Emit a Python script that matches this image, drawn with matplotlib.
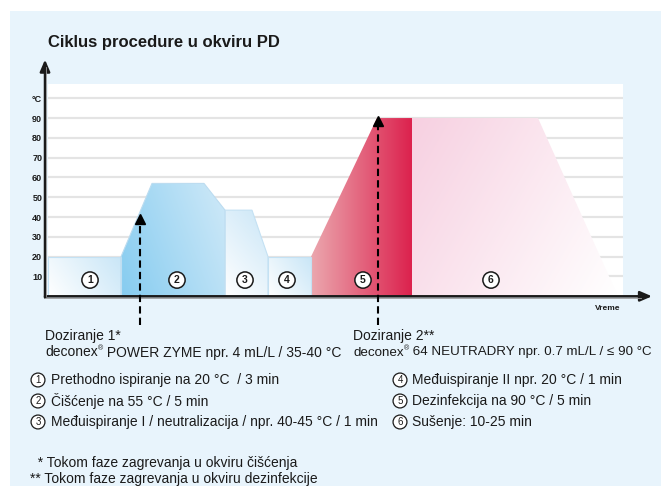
"""
Ciklus procedure u okviru PD - temperature profile of the washer-disinfector cycle
"""

import matplotlib.pyplot as plt
import numpy as np
from matplotlib.colors import LinearSegmentedColormap
from matplotlib.patches import Polygon, Rectangle

W, H = 661, 486
BG = '#e8f4fc'
INK = '#1a1a1a'
GRID = '#e4e4e4'
FS = 10

plt.rcParams['font.family'] = ['Liberation Sans', 'DejaVu Sans']

# Temperature profile (time in chart units, temperature in deg C), one list per phase
phase_x = [
    [3, 76, 76, 3],
    [76, 107, 159, 180, 180, 76],
    [180, 207, 223, 223, 180],
    [223, 266, 266, 223],
    [266, 332, 367, 367, 266],
    [367, 493, 573, 367],
]
phase_y = [
    [20, 20, 0, 0],
    [20, 57, 57, 43.5, 0, 0],
    [43.5, 43.5, 20, 0, 0],
    [20, 20, 0, 0],
    [20, 90, 90, 0, 0],
    [90, 90, 0, 0],
]
phase_labels = ['1', '2', '3', '4', '5', '6']
label_x = [45, 132, 200, 242, 318, 446]

# gradient colours (start, end, direction angle in degrees)
phase_grad = [
    ('#ffffff', '#c9e6f7', 35),
    ('#86ccf0', '#cfe9f8', 20),
    ('#ffffff', '#cae6f7', 40),
    ('#ffffff', '#c9e6f7', 35),
    ('#eba7ae', '#dc224e', 0),
    ('#f7d0e1', '#ffffff', -30),
]
phase_edge = ['#c4e1f3', '#bcdcf0', '#c4e1f3', '#c4e1f3', 'none', 'none']

# dosing points
dose_x = [95, 333]
dose_temp = [40.5, 90]

yticks = [10, 20, 30, 40, 50, 60, 70, 80, 90, 100]
ytick_labels = ['10', '20', '30', '40', '50', '60', '70', '80', '90', '°C']

dose_title = ['Doziranje 1*', 'Doziranje 2**']
dose_product = [' POWER ZYME npr. 4 mL/L / 35-40 °C',
                ' 64 NEUTRADRY npr. 0.7 mL/L / \u2264 90 °C']
legend_left = [
    'Prethodno ispiranje na 20 °C  / 3 min',
    'Čišćenje na 55 °C / 5 min',
    'Međuispiranje I / neutralizacija / npr. 40-45 °C / 1 min',
]
legend_right = [
    'Međuispiranje II npr. 20 °C / 1 min',
    'Dezinfekcija na 90 °C / 5 min',
    'Sušenje: 10-25 min',
]
footnotes = ['  * Tokom faze zagrevanja u okviru čišćenja',
             '** Tokom faze zagrevanja u okviru dezinfekcije']


def fx(px):
    return px / W


def fy(py):
    return 1 - py / H


def gradient_patch(ax, xs, ys, c0, c1, angle, edge):
    poly = Polygon(np.column_stack([xs, ys]), closed=True, fc='none',
                   ec=edge, lw=0.8, zorder=3)
    ax.add_patch(poly)
    x0, x1, y0, y1 = min(xs), max(xs), min(ys), max(ys)
    gx, gy = np.meshgrid(np.linspace(0, 1, 200), np.linspace(0, 1, 200))
    a = np.deg2rad(angle)
    # scale y by aspect so the direction is in pixel space
    sx, sy = (x1 - x0), (y1 - y0) * 1.98
    t = gx * sx * np.cos(a) + gy * sy * np.sin(a)
    t = (t - t.min()) / (t.max() - t.min())
    cmap = LinearSegmentedColormap.from_list('g', [c0, c1])
    im = ax.imshow(t, cmap=cmap, extent=[x0, x1, y0, y1], origin='lower',
                   aspect='auto', interpolation='bilinear', zorder=2)
    im.set_clip_path(poly)


fig = plt.figure(figsize=(W / 100, H / 100), dpi=100)
fig.patch.set_facecolor('white')
fig.patches.append(Rectangle((fx(10), 0), 1 - fx(10), fy(11), transform=fig.transFigure,
                             fc=BG, ec='none', zorder=-10))
renderer = fig.canvas.get_renderer()

ax = fig.add_axes([fx(45), fy(296.3), 607 / W, 234.3 / H])
ax.set_facecolor('none')
ax.set_xlim(0, 607)
ax.set_ylim(0, 118.3)
for s in ax.spines.values():
    s.set_visible(False)
ax.set_xticks([])
ax.set_yticks(yticks)
ax.set_yticklabels(ytick_labels, fontsize=6.5, fontweight='bold', color=INK)
ax.tick_params(axis='y', length=0, pad=2)

# white plotting area and grid
ax.add_patch(Rectangle((3, 0), 575, 107.2, fc='white', ec='none', zorder=0))
ax.hlines(yticks, 3, 578, color=GRID, lw=1.6, zorder=1)

for xs, ys, (c0, c1, ang), edge in zip(phase_x, phase_y, phase_grad, phase_edge):
    gradient_patch(ax, xs, ys, c0, c1, ang, edge)

for lab, lx in zip(phase_labels, label_x):
    ax.text(lx, 8.2, lab, ha='center', va='center', fontsize=7.5, fontweight='bold',
            color=INK, zorder=6,
            bbox=dict(boxstyle='circle,pad=0.3', fc='white', ec=INK, lw=1.1))

# axes with arrow heads
ax.annotate('', xy=(607, 0), xytext=(0, 0), annotation_clip=False, zorder=7,
            arrowprops=dict(arrowstyle='-|>,head_length=0.7,head_width=0.3',
                            color=INK, lw=1.8, shrinkA=0, shrinkB=0))
ax.annotate('', xy=(0, 119.5), xytext=(0, -0.6), annotation_clip=False, zorder=7,
            arrowprops=dict(arrowstyle='-|>,head_length=0.7,head_width=0.3',
                            color=INK, lw=1.8, shrinkA=0, shrinkB=0))
ax.plot([0, 596], [-0.9, -0.9], color='#9a9a9a', lw=0.6, clip_on=False, zorder=7)
ax.plot([1.3, 1.3], [0, 116], color='#9a9a9a', lw=0.6, clip_on=False, zorder=7)

ax.text(608 - 45, -6.3, 'Vreme', ha='center', va='center', fontsize=6,
        fontweight='bold', color=INK)

# dosing arrows
for dx, dt in zip(dose_x, dose_temp):
    ax.plot([dx, dx], [-14.6, dt - 2], color='black', lw=1.5, ls=(0, (3.5, 2)),
            clip_on=False, zorder=8)
    ax.plot([dx], [dt - 1.6], marker='^', color='black', ms=6.5, clip_on=False, zorder=8)

# text below chart
fig.text(fx(48), fy(43), 'Ciklus procedure u okviru PD', fontsize=12,
         fontweight='bold', color=INK, va='center')

for l1, l2, x0, fs in zip(dose_title, dose_product, [45, 353], [FS, 9.6]):
    fig.text(fx(x0), fy(336), l1, fontsize=FS, color=INK, va='center')
    t = fig.text(fx(x0), fy(352.5), 'deconex', fontsize=fs, color=INK, va='center')
    x1 = t.get_window_extent(renderer).x1
    r = fig.text(x1 / W + 0.0005, fy(349), '\u00ae', fontsize=5, color=INK, va='center')
    x2 = r.get_window_extent(renderer).x1
    fig.text(x2 / W, fy(352.5), l2, fontsize=fs, color=INK, va='center')

rows_y = [380, 401, 422]
for i, (txt, ty) in enumerate(zip(legend_left, rows_y)):
    fig.text(fx(38), fy(ty), str(i + 1), fontsize=7, ha='center', va='center', color=INK,
             bbox=dict(boxstyle='circle,pad=0.2', fc='white', ec=INK, lw=0.9))
    fig.text(fx(51), fy(ty), txt, fontsize=FS, color=INK, va='center')
for i, (txt, ty) in enumerate(zip(legend_right, rows_y)):
    fig.text(fx(400), fy(ty), str(i + 4), fontsize=7, ha='center', va='center', color=INK,
             bbox=dict(boxstyle='circle,pad=0.2', fc='white', ec=INK, lw=0.9))
    fig.text(fx(412), fy(ty), txt, fontsize=FS, color=INK, va='center')

fig.text(fx(30), fy(463), footnotes[0], fontsize=FS, color=INK, va='center')
fig.text(fx(30), fy(478.5), footnotes[1], fontsize=FS, color=INK, va='center')

fig.savefig('out.png', dpi=100, facecolor='white')
